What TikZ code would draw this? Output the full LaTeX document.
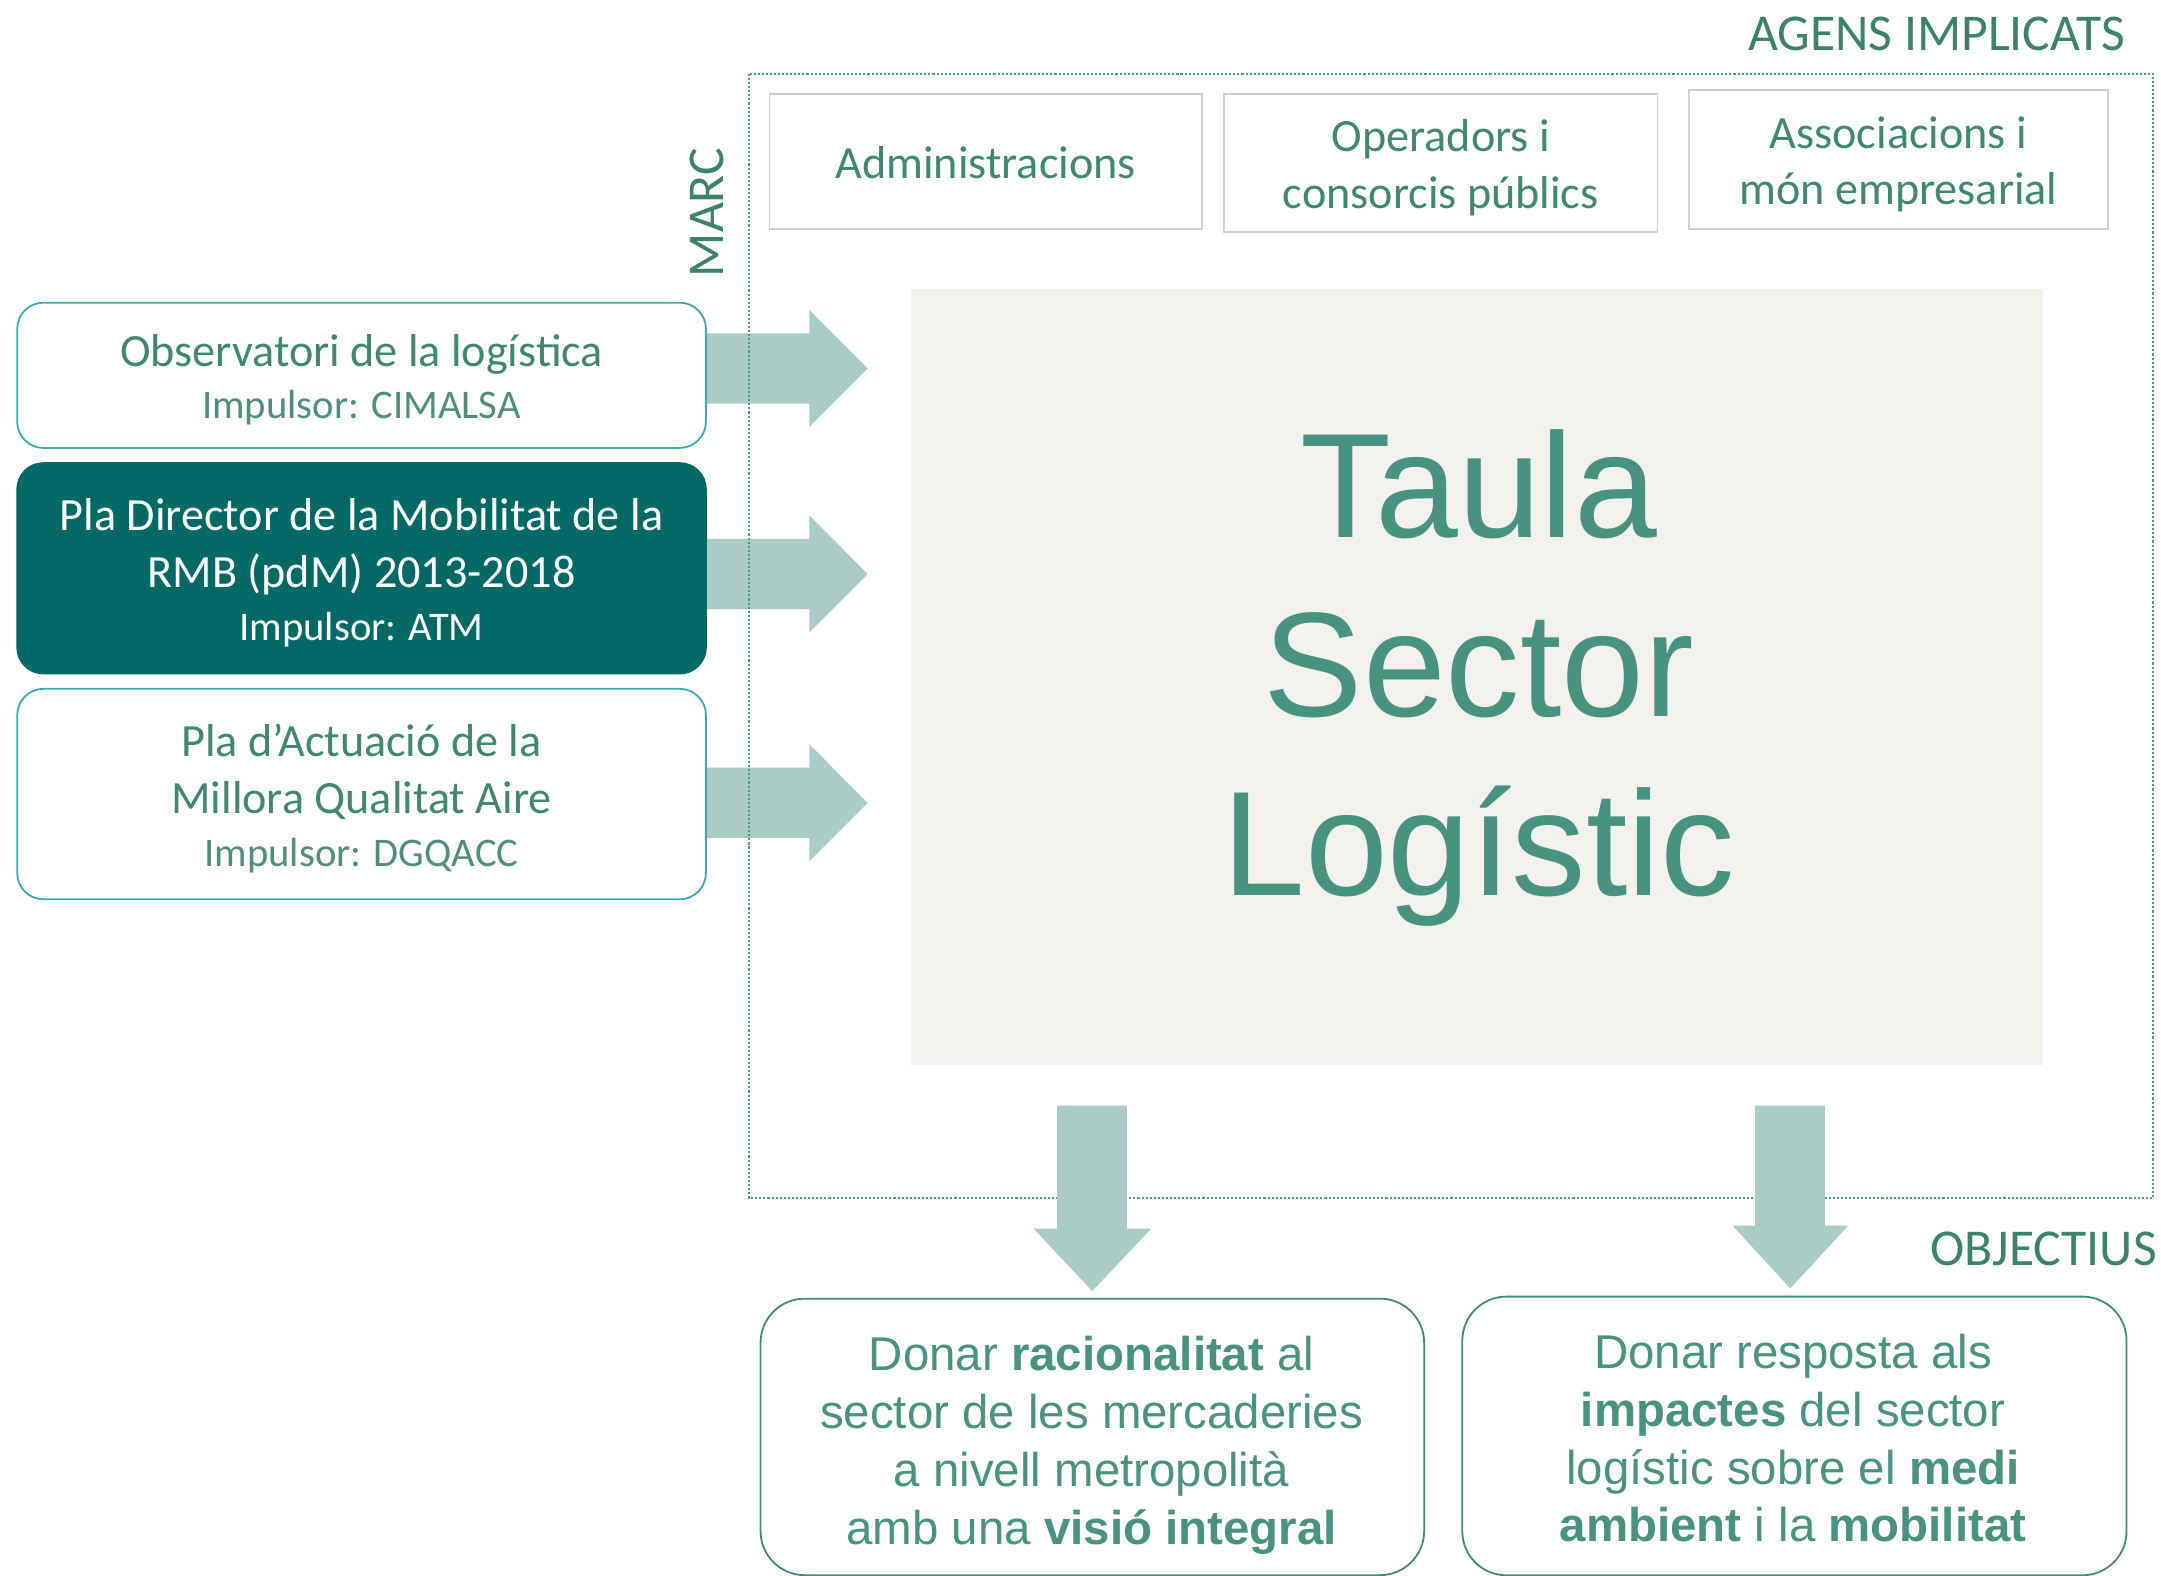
\documentclass[tikz,border=0pt]{standalone}
\usepackage{fontspec}
\setmainfont{Carlito}
\newfontfamily\arialf{Liberation Sans}
\definecolor{tgreen}{HTML}{3B826D}
\definecolor{boxtxt}{HTML}{3E8771}
\definecolor{lblue}{HTML}{3AABA8}
\definecolor{dteal}{HTML}{026965}
\definecolor{arr}{HTML}{ABCBC6}
\definecolor{greybg}{HTML}{F2F1ED}
\definecolor{bigg}{HTML}{47937F}
\definecolor{imp}{HTML}{4F8E7E}
\definecolor{dotc}{HTML}{4A9A86}
\definecolor{topb}{HTML}{D0D0D0}
\definecolor{botb}{HTML}{3F8A77}
\begin{document}
\begin{tikzpicture}[x=1pt,y=-1pt,
  lbox/.style={draw=lblue,line width=1.3pt,fill=white,rounded corners=19pt,
    minimum width=499.7pt,inner sep=0pt},
  dbox/.style={draw=dteal,line width=1.3pt,fill=dteal,rounded corners=19pt,
    minimum width=499.7pt,inner sep=0pt},
  tbox/.style={draw=topb,line width=1.3pt,fill=white,inner sep=0pt},
  bbox/.style={draw=botb,line width=1.3pt,fill=white,rounded corners=32pt,inner sep=0pt},
  arrowfill/.style={fill=arr},
  ttl/.style={inner sep=0pt,anchor=base,text=boxtxt,font=\fontsize{33.5}{40}\selectfont},
  impl/.style={inner sep=0pt,anchor=base,text=imp,font=\fontsize{29.5}{35}\selectfont},
  lbl/.style={inner sep=0pt,text=tgreen,font=\fontsize{37.5}{44}\selectfont},
  big/.style={inner sep=0pt,anchor=base,text=bigg,font=\arialf\fontsize{108}{130}\selectfont},
  goal/.style={inner sep=0pt,anchor=base,text=bigg,font=\arialf\fontsize{34.4}{42}\selectfont}
]
\useasboundingbox (0,0) rectangle (1568,1143.5);
\fill[white] (0,0) rectangle (1568,1143.5);

% central grey panel
\node[fill=greybg,minimum width=821.6pt,minimum height=562.7pt,inner sep=0pt] (panel) at (1071.8,491.35) {};

% top boxes (agents)
\node[tbox,minimum width=313.7pt,minimum height=97.8pt] (adm) at (715.15,117) {};
\node[tbox,minimum width=314.3pt,minimum height=100.4pt] (ope) at (1045.45,118.3) {};
\node[tbox,minimum width=303.7pt,minimum height=100.4pt] (ass) at (1377.45,115.7) {};

% horizontal block arrows
\coordinate (t1) at (629.6,267.3);
\coordinate (t2) at (629.6,416.5);
\coordinate (t3) at (629.6,582.5);
\foreach \c in {267.3,416.5,582.5}{
  \fill[arrowfill] (500,\c-25.5) -- (587.3,\c-25.5) -- (587.3,\c-42.4) -- (629.6,\c)
     -- (587.3,\c+42.4) -- (587.3,\c+25.5) -- (500,\c+25.5) -- cycle;
}

% left boxes
\node[lbox,minimum height=105.4pt] (obs) at (262.35,272.3) {};
\node[dbox,minimum height=152.7pt] (pdm) at (262.35,412.35) {};
\node[lbox,minimum height=152.7pt] (pac) at (262.35,576.15) {};

% frame (MARC)
\draw[dotc,line width=1.5pt,dash pattern=on 1.5pt off 1.45pt] (543.2,53.7) rectangle (1562.4,869);

% down block arrows
\coordinate (d1) at (792.5,936.8);
\coordinate (d2) at (1299,934.9);
\fill[arrowfill] (767,802.2) -- (817.6,802.2) -- (817.6,891.5) -- (835.3,891.5) -- (d1)
   -- (750,891.5) -- (767,891.5) -- cycle;
\fill[arrowfill] (1273.4,802.2) -- (1324.1,802.2) -- (1324.1,889.3) -- (1341,889.3) -- (d2)
   -- (1257.2,889.3) -- (1273.4,889.3) -- cycle;

% bottom goal boxes
\node[bbox,minimum width=481.5pt,minimum height=200.6pt] (g1) at (792.6,1042.6) {};
\node[bbox,minimum width=482pt,minimum height=202.2pt] (g2) at (1302,1041.9) {};

% labels
\node[lbl,anchor=base east] (agens) at (1542,36.3) {AGENS IMPLICATS};
\node[lbl,anchor=base,rotate=90] (marc) at (524.8,154.2) {MARC};
\node[lbl,anchor=base west] (obj) at (1400.5,918) {OBJECTIUS};

% top box texts
\node[ttl] (admt) at (715.15,129.6) {Administracions};
\node[ttl] (opet1) at (1045.45,110) {Operadors i};
\node[ttl] (opet2) at (1045.45,151) {consorcis públics};
\node[ttl] (asst1) at (1377.45,107.4) {Associacions i};
\node[ttl] (asst2) at (1377.45,148.2) {món empresarial};

% left box texts
\node[ttl] (obst1) at (262.35,265.8) {Observatori de la logística};
\node[impl] (obst2) at (262.35,303.6) {Impulsor: CIMALSA};
\node[ttl,text=white] (pdmt1) at (262.35,385) {Pla Director de la Mobilitat de la};
\node[ttl,text=white] (pdmt2) at (262.35,426.5) {RMB (pdM) 2013-2018};
\node[impl,text=white] (pdmt3) at (262.35,464.7) {Impulsor: ATM};
\node[ttl] (pact1) at (262.35,548.8) {Pla d’Actuació de la};
\node[ttl] (pact2) at (262.35,590.3) {Millora Qualitat Aire};
\node[impl] (pact3) at (262.35,628.5) {Impulsor: DGQACC};

% central title
\node[big] (tl1) at (1073,389.7) {Taula};
\node[big] (tl2) at (1073,519.7) {Sector};
\node[big] (tl3) at (1073,650) {Logístic};

% goal texts
\node[goal] (g1a) at (792,994.5) {Donar \textbf{racionalitat} al};
\node[goal] (g1b) at (792,1036.6) {sector de les mercaderies};
\node[goal] (g1c) at (792,1078.7) {a nivell metropolità};
\node[goal] (g1d) at (792,1120.5) {amb una \textbf{visió integral}};
\node[goal] (g2a) at (1301,992.8) {Donar resposta als};
\node[goal] (g2b) at (1301,1034.8) {\textbf{impactes} del sector};
\node[goal] (g2c) at (1301,1076.8) {logístic sobre el \textbf{medi}};
\node[goal] (g2d) at (1301,1118.8) {\textbf{ambient} i la \textbf{mobilitat}};
\end{tikzpicture}
\end{document}
